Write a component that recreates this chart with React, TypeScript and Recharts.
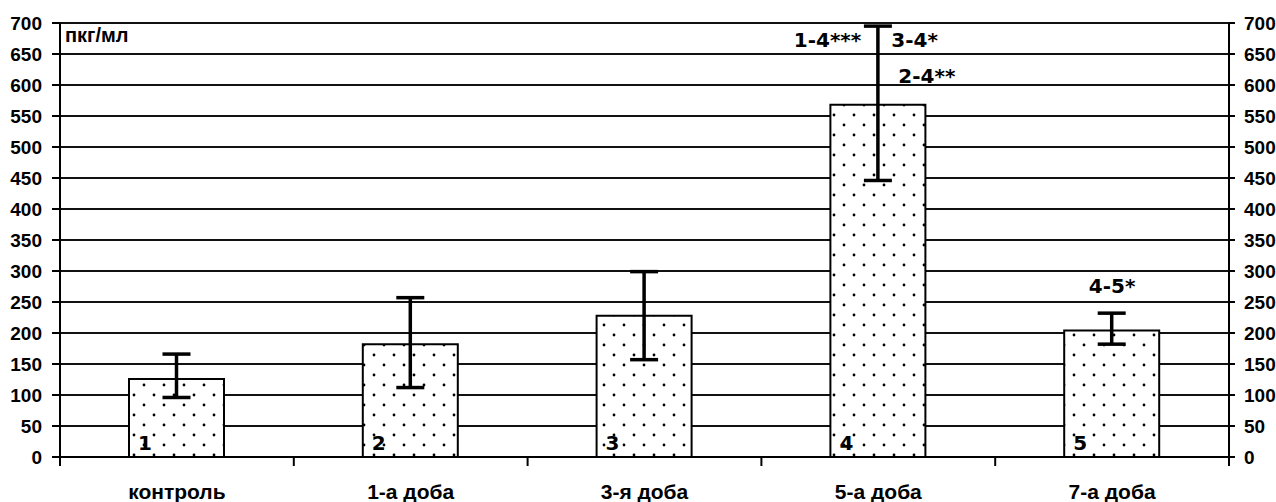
import React from 'react';
import {
  BarChart, Bar, XAxis, YAxis, CartesianGrid, ErrorBar, LabelList, ReferenceDot, ReferenceLine,
} from 'recharts';

const categories = ['контроль', '1-а доба', '3-я доба', '5-а доба', '7-а доба'];
const means = [126, 182, 228, 568, 204];
const errLow = [30, 70, 71, 122, 22];
const errHigh = [40, 75, 71, 127, 28];
const barNumbers = ['1', '2', '3', '4', '5'];
const yTicks = [0, 50, 100, 150, 200, 250, 300, 350, 400, 450, 500, 550, 600, 650, 700];
const unitLabel = 'пкг/мл';

const annCats = ['5-а доба', '5-а доба', '5-а доба', '7-а доба'];
const annTexts = ['1-4***', '3-4*', '2-4**', '4-5*'];
const annValues = [662, 662, 603, 265];
const annDx = [-17, 13, 20, 0];
const annAnchor = ['end', 'start', 'start', 'middle'];

const data = categories.map((c, i) => ({
  cat: c,
  value: means[i],
  err: [errLow[i], errHigh[i]],
  num: barNumbers[i],
}));

const W = 1276;
const H = 502;
const LEFT_W = 60;
const RIGHT_W = 47;
const PLOT_W = W - LEFT_W - RIGHT_W;

const XTick = (props: any) => {
  const { x, y, payload, index, visibleTicksCount } = props;
  const half = payload && payload.offset ? payload.offset : PLOT_W / categories.length / 2;
  const last = index === (visibleTicksCount ? visibleTicksCount - 1 : categories.length - 1);
  return (
    <g>
      <line x1={x - half} x2={x - half} y1={y} y2={y + 9} stroke="#000" strokeWidth={2} />
      {last && <line x1={x + half} x2={x + half} y1={y} y2={y + 9} stroke="#000" strokeWidth={2} />}
      <text
        x={x}
        y={y + 42}
        textAnchor="middle"
        fontFamily="'Liberation Sans', Arial, sans-serif"
        fontWeight="bold"
        fontSize={21}
        fill="#000"
      >
        {payload.value}
      </text>
    </g>
  );
};

const tickStyle = {
  fontFamily: "'Liberation Sans', Arial, sans-serif",
  fontWeight: 'bold',
  fontSize: 19,
  fill: '#000',
};

export default function App() {
  return (
    <div style={{ position: 'absolute', left: 0, top: 0, background: '#fff' }}>
      <BarChart
        width={W}
        height={H}
        data={data}
        margin={{ top: 23, right: 0, bottom: 0, left: 0 }}
      >
        <defs>
          <pattern id="dots" width="20" height="20" patternUnits="userSpaceOnUse">
            <rect width="20" height="20" fill="#fff" />
            <circle cx="4" cy="5" r="1.4" fill="#000" />
            <circle cx="14" cy="15" r="1.4" fill="#000" />
          </pattern>
        </defs>
        <CartesianGrid yAxisId="l" vertical={false} stroke="#111" strokeWidth={2} />
        <XAxis
          dataKey="cat"
          height={45}
          tickSize={0}
          tickMargin={0}
          tickLine={false}
          axisLine={{ stroke: '#000', strokeWidth: 2 }}
          tick={<XTick />}
          interval={0}
        />
        <YAxis
          yAxisId="l"
          orientation="left"
          width={LEFT_W}
          domain={[0, 700]}
          ticks={yTicks}
          interval={0}
          allowDataOverflow
          tickSize={8}
          tickMargin={10}
          tick={tickStyle}
          tickLine={{ stroke: '#000', strokeWidth: 2 }}
          axisLine={{ stroke: '#000', strokeWidth: 2 }}
        />
        <YAxis
          yAxisId="r"
          orientation="right"
          width={RIGHT_W}
          domain={[0, 700]}
          ticks={yTicks}
          interval={0}
          allowDataOverflow
          tickSize={6}
          tickMargin={9}
          tick={{ ...tickStyle, textAnchor: 'start' }}
          tickLine={{ stroke: '#000', strokeWidth: 2 }}
          axisLine={{ stroke: '#000', strokeWidth: 2 }}
        />
        <ReferenceLine
          yAxisId="l"
          y={700}
          stroke="#111"
          strokeWidth={2}
          label={{
            value: unitLabel,
            position: 'insideTopLeft',
            offset: 5,
            fontFamily: "'Liberation Sans', Arial, sans-serif",
            fontWeight: 'bold',
            fontSize: 20,
            fill: '#000',
          }}
        />
        <Bar
          yAxisId="l"
          dataKey="value"
          barSize={95}
          fill="url(#dots)"
          stroke="#000"
          strokeWidth={2}
          isAnimationActive={false}
        >
          <ErrorBar dataKey="err" width={14} strokeWidth={3.5} stroke="#000" direction="y" />
          <LabelList
            dataKey="num"
            content={(p: any) => (
              <text
                x={p.x + 9}
                y={p.y + p.height - 7}
                fontFamily="'DejaVu Sans', sans-serif"
                fontWeight="bold"
                fontSize={20}
                fill="#000"
              >
                {p.value}
              </text>
            )}
          />
        </Bar>
        {annTexts.map((t, i) => (
          <ReferenceDot
            key={t}
            yAxisId="l"
            x={annCats[i]}
            y={annValues[i]}
            r={0}
            ifOverflow="visible"
            shape={(p: any) => (
              <text
                x={p.cx + annDx[i]}
                y={p.cy}
                textAnchor={annAnchor[i] as any}
                fontFamily="'DejaVu Sans', sans-serif"
                fontWeight="bold"
                fontSize={20}
                fill="#000"
              >
                {t}
              </text>
            )}
          />
        ))}
      </BarChart>
    </div>
  );
}
